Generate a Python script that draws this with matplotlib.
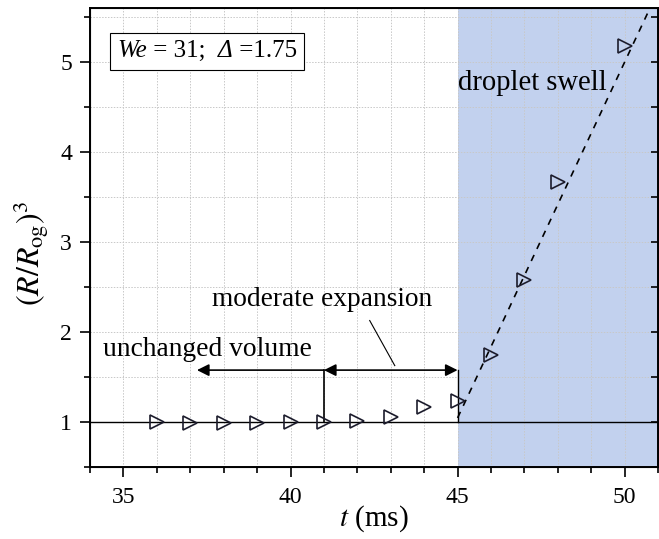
import matplotlib
matplotlib.use('Agg')
import matplotlib.pyplot as plt
from matplotlib.ticker import MultipleLocator
from matplotlib.offsetbox import TextArea, HPacker, AnchoredOffsetbox

plt.rcParams['font.family'] = ['Liberation Serif', 'DejaVu Serif']
plt.rcParams['mathtext.fontset'] = 'stix'

# measured points (t in ms, normalised volume)
t_ms = [36, 37, 38, 39, 40, 41, 42, 43, 44, 45, 46, 47, 48, 50]
vol = [1.00, 0.99, 0.99, 0.99, 1.00, 1.00, 1.02, 1.06, 1.17, 1.24, 1.75, 2.58, 3.67, 5.18]

# linear fit through the swell stage
fit_t = [45.0, 50.7]
fit_vol = [1.05, 5.55]

swell_start = 45
stage_split = 41
arrow_y = 1.58

fig = plt.figure(figsize=(6.59, 5.39), dpi=100)
ax = fig.add_axes([0.1366, 0.1327, 0.862, 0.853])

ax.set_xlim(34, 51)
ax.set_ylim(0.5, 5.6)

# shaded swell region
ax.axvspan(swell_start, 51, color='#c2d1ee', zorder=0, lw=0)

ax.xaxis.set_major_locator(MultipleLocator(5))
ax.xaxis.set_minor_locator(MultipleLocator(1))
ax.yaxis.set_major_locator(MultipleLocator(1))
ax.yaxis.set_minor_locator(MultipleLocator(0.5))
ax.grid(which='both', color='#c8c8c8', linestyle=(0, (1.5, 1.5)), lw=0.7, zorder=0.5)
ax.set_axisbelow(True)

ax.axhline(1, color='k', lw=1.0, zorder=2)

ax.plot(fit_t, fit_vol, color='k', ls=(0, (4, 4)), lw=1.2, zorder=3)
ax.plot(t_ms, vol, ls='none', marker='>', ms=10.5, mfc='none', mec='#1c1c2c',
        mew=1.2, zorder=4)

# stage markers and arrows
ax.plot([stage_split, stage_split], [1, arrow_y], color='k', lw=1.2, zorder=3)
ax.plot([swell_start, swell_start], [1, arrow_y], color='k', lw=1.0, zorder=3)
ax.annotate('', xy=(37.2, arrow_y), xytext=(stage_split, arrow_y),
            arrowprops=dict(arrowstyle='-|>', color='k', lw=1.2,
                            mutation_scale=18, shrinkA=0, shrinkB=0))
ax.annotate('', xy=(swell_start, arrow_y), xytext=(stage_split, arrow_y),
            arrowprops=dict(arrowstyle='<|-|>', color='k', lw=1.2,
                            mutation_scale=18, shrinkA=0, shrinkB=0))
ax.plot([42.37, 43.12], [2.13, 1.63], color='k', lw=0.8)

ax.text(34.4, 1.81, 'unchanged volume', fontsize=19.8, ha='left', va='center')
ax.text(40.95, 2.36, 'moderate expansion', fontsize=19.7, ha='center', va='center')
ax.text(45.02, 4.77, 'droplet swell', fontsize=20.6, ha='left', va='center')

# parameter box, italic symbols
box_fs = 18
parts = [('We', 'italic'), (' = 31;  ', 'normal'), ('\u0394', 'italic'), (' =1.75', 'normal')]
pack = HPacker(children=[TextArea(s, textprops=dict(fontsize=box_fs, style=st))
                         for s, st in parts],
               sep=0, pad=0, align='baseline')
box = AnchoredOffsetbox(loc='upper left', child=pack, pad=0.3, borderpad=0,
                        bbox_to_anchor=(0.035, 0.946), bbox_transform=ax.transAxes,
                        frameon=True, prop=dict(size=box_fs))
box.patch.set_edgecolor('k')
box.patch.set_linewidth(0.8)
ax.add_artist(box)

ax.tick_params(which='both', direction='out', labelsize=17, width=1.2,
               top=False, right=False)
ax.tick_params(axis='x', which='both', pad=7)
ax.tick_params(axis='y', which='both', pad=6)
ax.tick_params(which='major', length=7)
ax.tick_params(which='minor', length=4.5)
for s in ax.spines.values():
    s.set_linewidth(1.4)

# right axis ticks point inwards
ax2 = ax.twinx()
ax2.set_ylim(ax.get_ylim())
ax2.yaxis.set_major_locator(MultipleLocator(1))
ax2.yaxis.set_minor_locator(MultipleLocator(0.5))
ax2.tick_params(which='both', direction='in', labelright=False, width=1.2, length=5)

ax.set_xlabel(r'$t$ (ms)', fontsize=21, labelpad=-3)
ax.set_ylabel(r'$(R/R_{\rm og})^3$', fontsize=23)
ax.yaxis.set_label_coords(-0.068, 0.466)

fig.savefig('out.png', dpi=100)
